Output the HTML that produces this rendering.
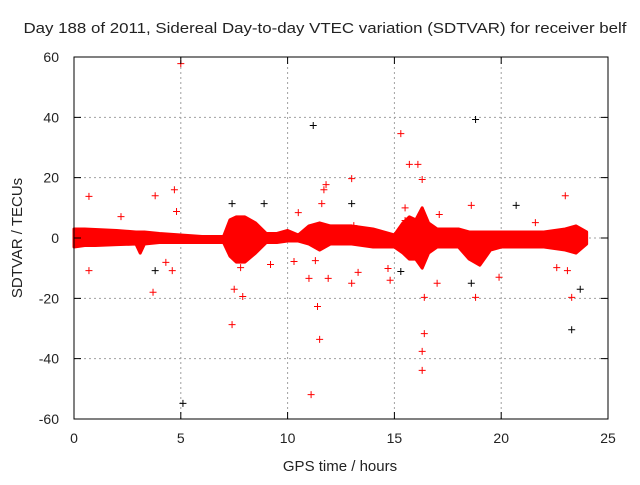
<!DOCTYPE html>
<html><head><meta charset="utf-8"><style>
body{margin:0;background:#fff}
svg text{font-family:"Liberation Sans",sans-serif;fill:#222}
</style></head><body>
<svg id="chart" width="640" height="480" xmlns="http://www.w3.org/2000/svg">
<text x="325" y="33" font-size="15" text-anchor="middle" textLength="603" lengthAdjust="spacingAndGlyphs">Day 188 of 2011, Sidereal Day-to-day VTEC variation (SDTVAR) for receiver belf</text>
<text x="340" y="471" font-size="15" text-anchor="middle">GPS time / hours</text>
<text transform="translate(22,238) rotate(-90)" font-size="15" text-anchor="middle">SDTVAR / TECUs</text>
<g id="grid"></g>
<g id="band"></g>
<g id="pts"></g>
<rect x="74" y="57" width="534" height="362" fill="none" stroke="#000" stroke-width="1"/>
<g id="ticks"></g>
</svg>
<script>
const xTicks=[0,5,10,15,20,25];
const yTicks=[-60,-40,-20,0,20,40,60];
const bandHours=[0,0.5,1,2,2.9,3.1,3.3,4,5,6,7,7.3,7.6,8,8.5,9,9.5,10,10.5,11,11.5,12,13,14,15,15.4,15.7,16,16.3,16.6,17,18,18.5,19,19.5,20,21,22,23,23.5,24];
const bandHi=[3,3,2.8,2.5,2,2,2,1.5,1,0.5,0.5,6,7,7,5,1.5,1.5,2.5,1,4,5,4,4,3,1,5,7,6,10,5,3,3,2,2,2,2,2,2,3,4,2];
const bandLo=[-3,-2.5,-2.5,-2.2,-2,-5,-2,-1.5,-1.5,-1.5,-1.5,-6,-8,-8,-5,-1.5,-1.5,-1,-1,-2,-4,-2,-2,-3,-3,-5,-7,-7,-10,-5,-3,-3,-7,-9,-4,-3,-3,-3,-4,-5,-2];
const redH=[5.0,15.3,15.7,16.1,16.3,13.0,11.8,11.7,4.7,0.7,3.8,11.1,11.5,11.4,7.4,7.5,3.7,0.7,16.4,16.3,16.3,16.4,18.8,23.3,23.0,18.6,17.1,2.2,4.8,7.8,10.5,11.6,13.1,14.7,14.8,13.0,13.3,11.0,11.9,9.2,7.8,7.9,22.6,23.1,15.5,15.5,4.3,4.6,10.3,21.6,17.0,19.9,11.3];
const redV=[57.8,34.6,24.4,24.4,19.4,19.7,17.7,16,16,13.8,14,-51.9,-33.6,-22.7,-28.7,-17,-18,-10.8,-31.7,-37.6,-43.9,-19.7,-19.7,-19.7,14,10.8,7.8,7.1,8.8,3.8,8.4,11.4,4.1,-10.1,-14,-15,-11.4,-13.4,-13.4,-8.8,-9.8,-19.4,-9.8,-10.8,5.8,10,-8.1,-10.8,-7.8,5.1,-15,-13,-7.5];
const blackH=[5.1,11.2,18.8,7.4,8.9,3.8,18.6,23.3,23.7,20.7,13.0,15.3];
const blackV=[-54.8,37.3,39.3,11.4,11.4,-10.8,-15,-30.4,-17,10.8,11.4,-11.1];
const L=74,R=608,T=57,B=419;
const sx=h=>L+(h-0)/25*(R-L);
const sy=v=>B-(v+60)/120*(B-T);
const NS='http://www.w3.org/2000/svg';
function mk(tag,parent,attrs){const e=document.createElementNS(NS,tag);for(const k in attrs)e.setAttribute(k,attrs[k]);parent.appendChild(e);return e;}
const grid=document.getElementById('grid'),ticks=document.getElementById('ticks'),svg=document.getElementById('chart');
xTicks.forEach(t=>{const x=sx(t);
 if(t>0&&t<25){const g=mk('line',grid,{x1:x,x2:x,y1:T,y2:B,stroke:'#a0a0a0','stroke-dasharray':'2,3'});}
 const a=mk('path',ticks,{d:`M${x},${B}v-7M${x},${T}v7`,stroke:'#000'});
 const tx=mk('text',svg,{x:x,y:B+24,'font-size':'14','text-anchor':'middle'});tx.textContent=t;});
yTicks.forEach(t=>{const y=sy(t);
 if(t>-60&&t<60){const g=mk('line',grid,{x1:L,x2:R,y1:y,y2:y,stroke:'#a0a0a0','stroke-dasharray':'2,3'});}
 const a=mk('path',ticks,{d:`M${L},${y}h7M${R},${y}h-7`,stroke:'#000'});
 const tx=mk('text',svg,{x:L-15,y:y+5,'font-size':'14','text-anchor':'end'});tx.textContent=t;});
let d='';bandHours.forEach((h,i)=>{d+=(i?'L':'M')+sx(h)+','+sy(bandHi[i]);});
for(let i=bandHours.length-1;i>=0;i--)d+='L'+sx(bandHours[i])+','+sy(bandLo[i]);
const band=mk('path',document.getElementById('band'),{d:d+'Z',fill:'#ff0000',stroke:'#ff0000','stroke-width':'3','stroke-linejoin':'round'});


const pts=document.getElementById('pts');
function plus(h,v,c){const x=sx(h),y=sy(v);const p=mk('path',pts,{d:`M${x-3.5},${y}h7M${x},${y-3.5}v7`,stroke:c,'stroke-width':'1'});return p;}
blackH.forEach((h,i)=>{const p=plus(h,blackV[i],'#000');

});
redH.forEach((h,i)=>{const p=plus(h,redV[i],'#ff0000');

});
</script>
</body></html>
